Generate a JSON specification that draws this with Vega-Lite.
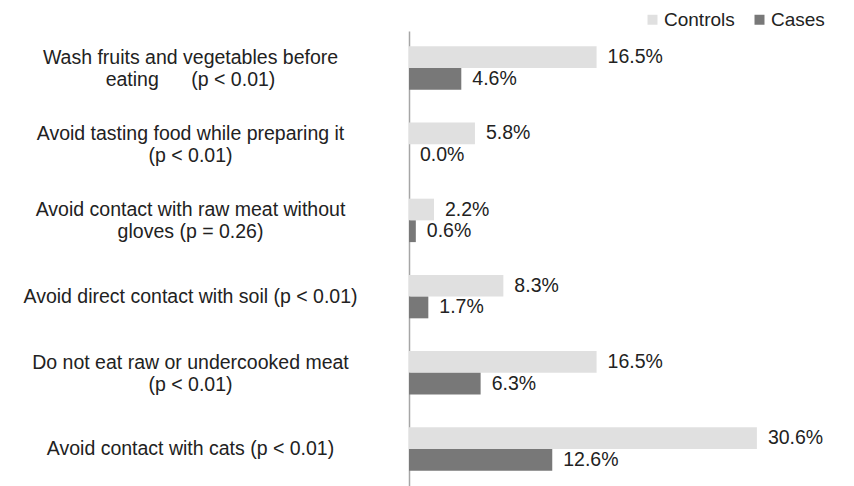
{
  "$schema": "https://vega.github.io/schema/vega-lite/v6.json",
  "width": 440,
  "height": 455,
  "autosize": {"type": "none"},
  "padding": {"left": 409, "top": 31, "right": 5, "bottom": 0},
  "background": "white",
  "config": {
    "view": {"stroke": null},
    "font": "Liberation Sans"
  },
  "data": {
    "values": [
      {"item": "Wash fruits and vegetables before|eating\u00a0\u00a0\u00a0\u00a0\u00a0\u00a0(p < 0.01)", "group": "Controls", "value": 16.5, "label": "16.5%"},
      {"item": "Wash fruits and vegetables before|eating\u00a0\u00a0\u00a0\u00a0\u00a0\u00a0(p < 0.01)", "group": "Cases", "value": 4.6, "label": "4.6%"},
      {"item": "Avoid tasting food while preparing it|(p < 0.01)", "group": "Controls", "value": 5.8, "label": "5.8%"},
      {"item": "Avoid tasting food while preparing it|(p < 0.01)", "group": "Cases", "value": 0.0, "label": "0.0%"},
      {"item": "Avoid contact with raw meat without|gloves (p = 0.26)", "group": "Controls", "value": 2.2, "label": "2.2%"},
      {"item": "Avoid contact with raw meat without|gloves (p = 0.26)", "group": "Cases", "value": 0.6, "label": "0.6%"},
      {"item": "Avoid direct contact with soil (p < 0.01)", "group": "Controls", "value": 8.3, "label": "8.3%"},
      {"item": "Avoid direct contact with soil (p < 0.01)", "group": "Cases", "value": 1.7, "label": "1.7%"},
      {"item": "Do not eat raw or undercooked meat|(p < 0.01)", "group": "Controls", "value": 16.5, "label": "16.5%"},
      {"item": "Do not eat raw or undercooked meat|(p < 0.01)", "group": "Cases", "value": 6.3, "label": "6.3%"},
      {"item": "Avoid contact with cats (p < 0.01)", "group": "Controls", "value": 30.6, "label": "30.6%"},
      {"item": "Avoid contact with cats (p < 0.01)", "group": "Cases", "value": 12.6, "label": "12.6%"}
    ]
  },
  "encoding": {
    "y": {
      "field": "item",
      "type": "nominal",
      "sort": null,
      "scale": {"paddingInner": 0.43, "paddingOuter": 0.2},
      "axis": {
        "title": null,
        "domain": true,
        "domainColor": "#a6a6a6",
        "domainWidth": 1.5,
        "ticks": false,
        "labelAlign": "center",
        "labelBaseline": "middle",
        "labelPadding": 219,
        "labelOffset": {"condition": {"test": "indexof(datum.label, '|') >= 0", "value": -10}, "value": 0},
        "labelLimit": 0,
        "labelFontSize": 19.5,
        "labelColor": "#222222",
        "labelLineHeight": 22,
        "labelExpr": "split(datum.label, '|')"
      }
    },
    "yOffset": {
      "field": "group",
      "type": "nominal",
      "sort": ["Controls", "Cases"],
      "scale": {"paddingInner": 0, "paddingOuter": 0}
    },
    "x": {
      "field": "value",
      "type": "quantitative",
      "scale": {"domain": [0, 38.7]},
      "axis": null
    }
  },
  "layer": [
    {
      "mark": {"type": "bar"},
      "encoding": {
        "color": {
          "field": "group",
          "type": "nominal",
          "scale": {"domain": ["Controls", "Cases"], "range": ["#e0e0e0", "#787878"]},
          "legend": {
            "title": null,
            "orient": "none",
            "legendX": 234,
            "legendY": -21,
            "direction": "horizontal",
            "symbolType": "square",
            "symbolSize": 100,
            "symbolStrokeWidth": 0,
            "labelFontSize": 19,
            "labelColor": "#222222",
            "labelOffset": 2,
            "columnPadding": 15
          }
        }
      }
    },
    {
      "mark": {"type": "text", "align": "left", "baseline": "middle", "dx": 11, "fontSize": 19.5, "color": "#222222"},
      "encoding": {"text": {"field": "label"}}
    }
  ]
}
